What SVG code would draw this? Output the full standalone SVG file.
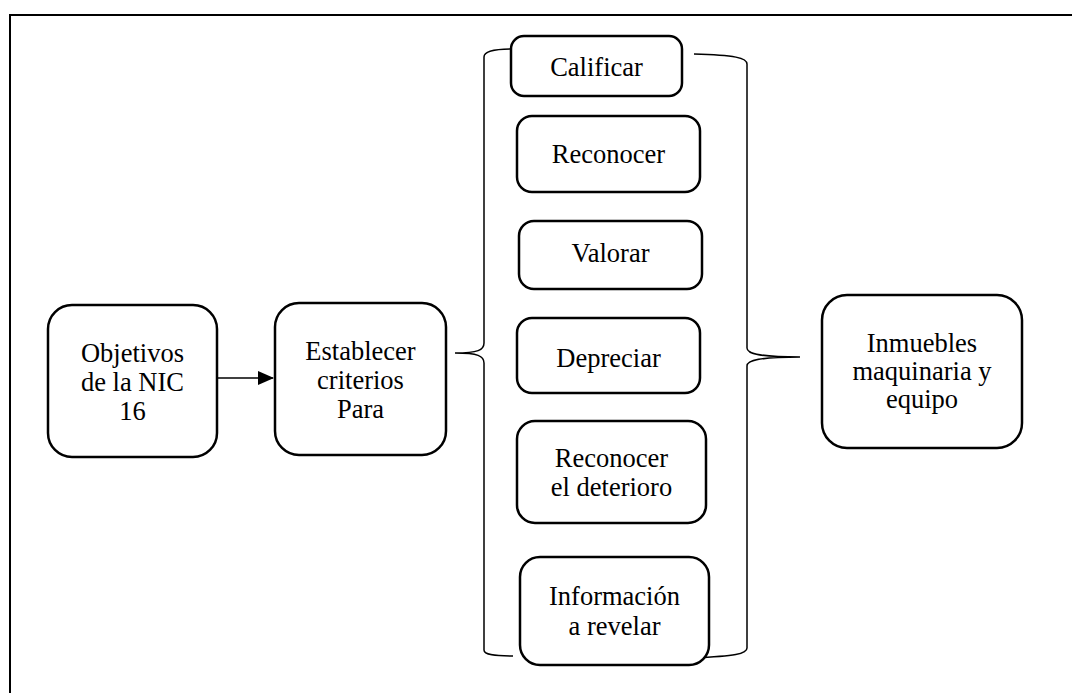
<svg xmlns="http://www.w3.org/2000/svg" width="1072" height="693" viewBox="0 0 1072 693">
<style>
.box{fill:#fff;stroke:#000;stroke-width:2.5}
.brace{fill:none;stroke:#000;stroke-width:1.5}
.conn{fill:none;stroke:#000;stroke-width:1.5}
text{font-family:"Liberation Serif","Times New Roman",serif;font-size:26.5px;fill:#000;text-anchor:middle}
</style>
<defs>
<marker id="arr" markerWidth="16" markerHeight="14" refX="15" refY="7" orient="auto" markerUnits="userSpaceOnUse">
<path d="M0,0 L16,7 L0,14 Z" fill="#000"/>
</marker>
</defs>
<rect width="1072" height="693" fill="#fff"/>
<rect x="10" y="15" width="1100" height="700" fill="none" stroke="#000" stroke-width="2"/>
<g id="connectors">
<line class="conn" x1="218" y1="378" x2="273" y2="378" marker-end="url(#arr)"/>
<path class="brace" d="M512,49 C495,49 484,51 484,57 L484,343 C484,350 478,353 455,353 M455,353 C478,353 484,356 484,363 L484,650 C484,655 495,656 513,656"/>
<path class="brace" d="M694,54 C735,55 747,58 747,64 L747,348 C747,354 760,357 800,357 M800,357 C760,357 747,360 747,366 L747,648 C747,654 735,656 693,658"/>
</g>
<g id="objetivos">
<rect class="box" x="48" y="305" width="169" height="152" rx="24"/>
<text x="132.5" y="362">Objetivos</text>
<text x="132.5" y="391">de la NIC</text>
<text x="132.5" y="420">16</text>
</g>
<g id="establecer">
<rect class="box" x="275" y="303" width="171" height="152" rx="24"/>
<text x="360.5" y="360">Establecer</text>
<text x="360.5" y="389">criterios</text>
<text x="360.5" y="418">Para</text>
</g>
<g id="calificar">
<rect class="box" x="511" y="36" width="171" height="60" rx="13"/>
<text x="596.5" y="76">Calificar</text>
</g>
<g id="reconocer">
<rect class="box" x="517" y="116" width="183" height="76" rx="15"/>
<text x="608.5" y="163">Reconocer</text>
</g>
<g id="valorar">
<rect class="box" x="519" y="221" width="183" height="68" rx="15"/>
<text x="610.5" y="262">Valorar</text>
</g>
<g id="depreciar">
<rect class="box" x="517" y="318" width="183" height="75" rx="15"/>
<text x="608.5" y="367">Depreciar</text>
</g>
<g id="deterioro">
<rect class="box" x="517" y="421" width="189" height="102" rx="18"/>
<text x="611.5" y="466.5">Reconocer</text>
<text x="611.5" y="495.5">el deterioro</text>
</g>
<g id="informacion">
<rect class="box" x="520" y="557" width="189" height="108" rx="20"/>
<text x="614.5" y="605">Información</text>
<text x="614.5" y="635">a revelar</text>
</g>
<g id="inmuebles">
<rect class="box" x="822" y="295" width="200" height="153" rx="25"/>
<text x="922" y="352">Inmuebles</text>
<text x="922" y="380">maquinaria y</text>
<text x="922" y="408">equipo</text>
</g>
</svg>
